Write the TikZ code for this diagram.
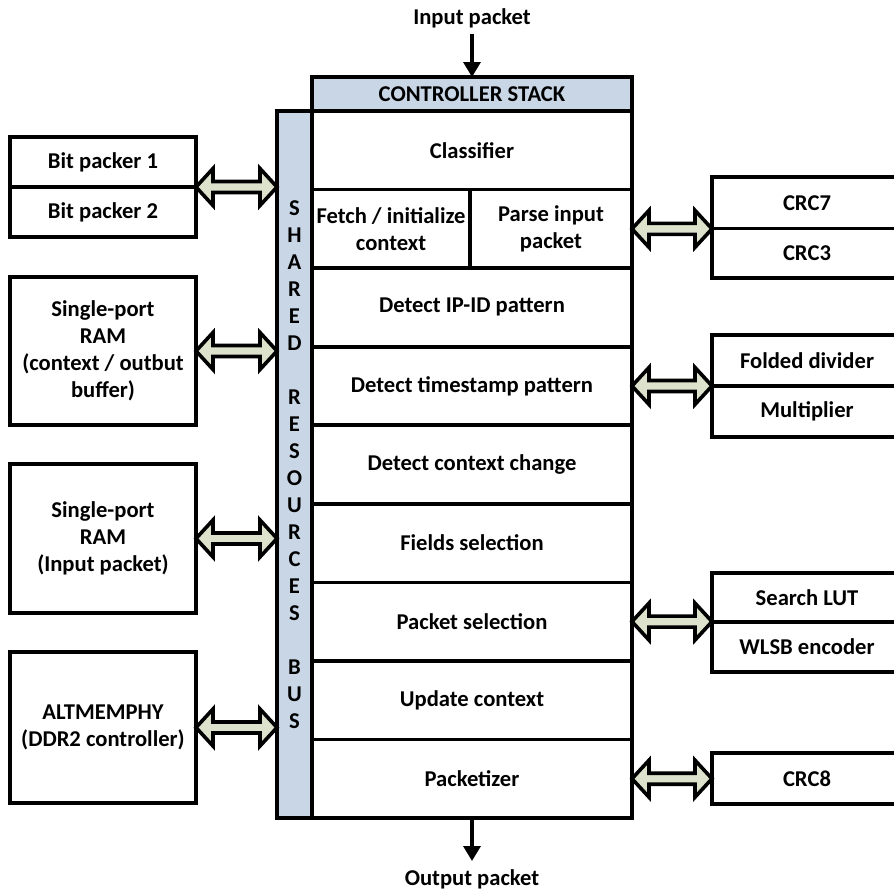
\documentclass[tikz,border=0pt]{standalone}
\usepackage{fontspec}
\setmainfont{Carlito}
\usetikzlibrary{calc,arrows.meta}
\definecolor{busblue}{RGB}{200,214,230}
\definecolor{arrowfill}{RGB}{221,226,204}

% wide double arrow from point #1 to the vertical line through #2
\newcommand\dblarrow[2]{%
  \draw[dbl] let \p1=(#1), \p2=(#2) in
    (\x1,\y1) -- (\x1+17pt,\y1+18.5pt) -- (\x1+17pt,\y1+5.5pt)
    -- (\x2-17pt,\y1+5.5pt) -- (\x2-17pt,\y1+18.5pt) -- (\x2,\y1)
    -- (\x2-17pt,\y1-18.5pt) -- (\x2-17pt,\y1-5.5pt)
    -- (\x1+17pt,\y1-5.5pt) -- (\x1+17pt,\y1-18.5pt) -- cycle;}

\begin{document}
\begin{tikzpicture}[x=1pt,y=-1pt,
  every node/.style={font=\fontsize{22.6}{27}\selectfont\bfseries,
    inner sep=0pt,outer sep=0pt,align=center},
  blk/.style={draw,line width=3.6pt,fill=white},
  dbl/.style={draw,line width=3.6pt,fill=arrowfill,line join=miter},
  flow/.style={line width=3.4pt,-{Triangle[length=15pt,width=17pt]}}]

\clip (0,0) rectangle (894,895);

% box from its corners: name, x1, y1, x2, y2, text, options
\def\bx#1#2#3#4#5#6#7{\node[blk,#7,minimum width={#4-#2},minimum height={#5-#3}]
  (#1) at ({(#2+#4)/2},{(#3+#5)/2}) {#6};}

% shared resources bus
\bx{bus}{277}{111}{312}{818}{S\\H\\A\\R\\E\\D\\\mbox{}\\R\\E\\S\\O\\U\\R\\C\\E\\S\\\mbox{}\\B\\U\\S}{fill=busblue}

% controller stack
\bx{ctrl}{312}{77}{632}{111}{CONTROLLER STACK}{fill=busblue}
\bx{cls}{312}{111}{632}{189.6}{Classifier}{}
\bx{fetch}{312}{189.6}{470}{268.1}{Fetch / initialize\\context}{}
\bx{parse}{470}{189.6}{632}{268.1}{Parse input\\packet}{}
\bx{ipid}{312}{268.1}{632}{346.7}{Detect IP-ID pattern}{}
\bx{ts}{312}{346.7}{632}{425.2}{Detect timestamp pattern}{}
\bx{ctx}{312}{425.2}{632}{503.8}{Detect context change}{}
\bx{fsel}{312}{503.8}{632}{582.3}{Fields selection}{}
\bx{psel}{312}{582.3}{632}{660.9}{Packet selection}{}
\bx{upd}{312}{660.9}{632}{739.4}{Update context}{}
\bx{pack}{312}{739.4}{632}{818}{Packetizer}{}

% left side resources
\bx{bp1}{10}{137}{196}{187}{Bit packer 1}{}
\bx{bp2}{10}{187}{196}{237}{Bit packer 2}{}
\bx{ram1}{10}{277}{196}{425}{Single-port\\RAM\\(context / outbut\\buffer)}{}
\bx{ram2}{10}{464}{196}{613}{Single-port\\RAM\\(Input packet)}{}
\bx{ddr}{10}{652}{196}{803}{ALTMEMPHY\\(DDR2 controller)}{}

% right side resources
\bx{crc7}{712}{177}{902}{228.5}{CRC7}{}
\bx{crc3}{712}{228.5}{902}{278}{CRC3}{}
\bx{fdiv}{712}{335}{902}{386}{Folded divider}{}
\bx{mult}{712}{386}{902}{437}{Multiplier}{}
\bx{lut}{712}{573}{902}{622}{Search LUT}{}
\bx{wlsb}{712}{622}{902}{672}{WLSB encoder}{}
\bx{crc8}{712}{753}{902}{804}{CRC8}{}

% bus connections
\dblarrow{bp1.south east}{bus.west}
\dblarrow{ram1.east}{bus.west}
\dblarrow{ram2.east}{bus.west}
\dblarrow{ddr.east}{bus.west}
\dblarrow{parse.east}{crc7.south west}
\dblarrow{ts.east}{fdiv.south west}
\dblarrow{psel.east}{lut.south west}
\dblarrow{pack.east}{crc8.west}

% packet flow
\node (inp) at (472,18) {Input packet};
\node (outp) at (472,879) {Output packet};
\coordinate (inpend) at (472,34);
\draw[flow] (inpend) -- (ctrl.north);
\coordinate (outend) at (472,861);
\draw[flow] (pack.south) -- (outend);
\end{tikzpicture}
\end{document}
